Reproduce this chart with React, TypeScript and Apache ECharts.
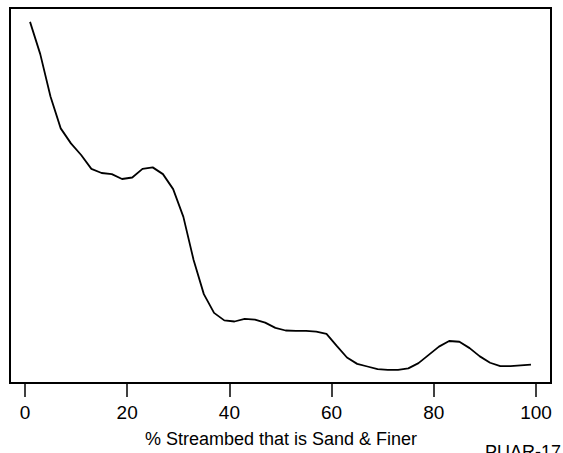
import React, { useEffect, useRef } from "react";
import * as echarts from "echarts";

const xValues = [1,3,5,7,9,11,13,15,17,19,21,23,25,27,29,31,33,35,37,39,41,43,45,47,49,51,53,55,57,59,61,63,65,67,69,71,73,75,77,79,81,83,85,87,89,91,93,95,97,99];
const yValues = [96.3,87.7,76.4,67.9,63.9,60.8,57.1,56.0,55.7,54.4,54.8,57.1,57.5,55.7,51.7,44.3,32.8,23.7,18.7,16.7,16.4,17.1,16.9,16.1,14.7,14.0,13.9,13.9,13.7,13.1,9.9,6.8,5.1,4.4,3.7,3.5,3.5,3.9,5.3,7.5,9.7,11.2,11.0,9.3,7.1,5.4,4.5,4.5,4.7,4.9];
const xTicks = [0, 20, 40, 60, 80, 100];
const xTitle = "% Streambed that is Sand & Finer";
const siteLabel = "PUAR-17";

export default function App() {
  const ref = useRef<HTMLDivElement>(null);
  useEffect(() => {
    if (!ref.current) return;
    const chart = echarts.init(ref.current, null, { renderer: "svg" });
    const font = "Liberation Sans, Arial, Helvetica, sans-serif";
    chart.setOption({
      animation: false,
      backgroundColor: "#fff",
      grid: {
        left: 10,
        top: 8,
        right: 12,
        bottom: 70,
        show: true,
        borderColor: "#000",
        borderWidth: 2,
        backgroundColor: "transparent",
      },
      xAxis: {
        type: "value",
        min: -2.92,
        max: 102.92,
        axisLine: { show: false },
        splitLine: { show: false },
        axisTick: {
          show: true,
          customValues: xTicks,
          length: 14,
          lineStyle: { color: "#000", width: 1.5 },
        },
        axisLabel: {
          show: true,
          customValues: xTicks,
          margin: 20,
          fontSize: 19,
          color: "#000",
          fontFamily: font,
        },
      },
      yAxis: {
        type: "value",
        min: 0,
        max: 100,
        show: false,
        splitLine: { show: false },
      },
      graphic: [
        {
          type: "text",
          x: 281,
          y: 439,
          style: {
            text: xTitle,
            fontSize: 18,
            fontFamily: font,
            fill: "#000",
            align: "center",
            verticalAlign: "middle",
          },
        },
        {
          type: "text",
          x: 485,
          y: 443,
          style: {
            text: siteLabel,
            fontSize: 18,
            fontFamily: font,
            fill: "#000",
            align: "left",
            verticalAlign: "top",
          },
        },
      ],
      series: [
        {
          type: "line",
          data: xValues.map((x, i) => [x, yValues[i]]),
          showSymbol: false,
          lineStyle: { color: "#000", width: 1.8 },
          silent: true,
        },
      ],
    });
    return () => chart.dispose();
  }, []);
  return (
    <div
      ref={ref}
      style={{ position: "absolute", left: 0, top: 0, width: 563, height: 453 }}
    />
  );
}
